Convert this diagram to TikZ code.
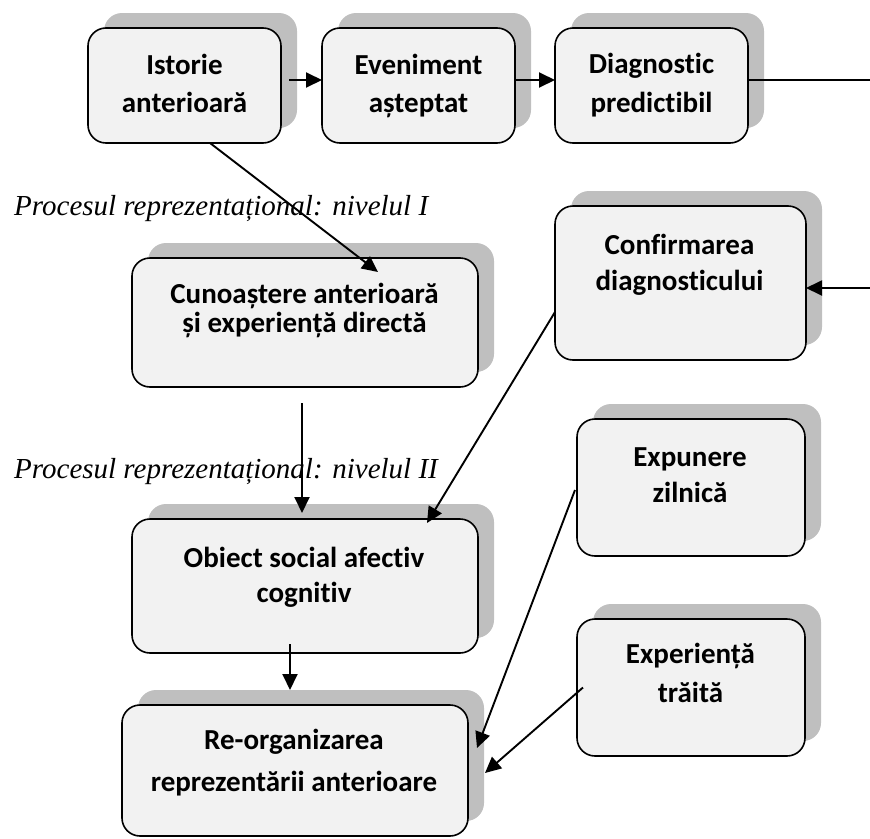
\documentclass[tikz,border=0pt]{standalone}
\usepackage{fontspec}
\usetikzlibrary{arrows.meta,shadows}
\newfontfamily\boxfont{Carlito}[Ligatures=NoCommon]
\newfontfamily\notefont{Liberation Serif}
\definecolor{cardfill}{HTML}{F2F2F2}
\definecolor{cardshadow}{HTML}{BFBFBF}
% two centred lines; the node's baseline is that of the first line
\newcommand\twoline[3]{\vtop{\baselineskip=#3pt\lineskiplimit=-100pt\lineskip=0pt
  \hbox to 0pt{\hss#1\hss}\hbox to 0pt{\hss#2\hss}}}
\tikzset{
  card/.style={rectangle, rounded corners=18pt, draw=black, line width=1.6pt,
    fill=cardfill, inner sep=0pt, outer sep=0pt,
    drop shadow={shadow xshift=16pt, shadow yshift=15pt, fill=cardshadow, opacity=1}},
  cardtext/.style={anchor=base, inner sep=0pt,
    font=\boxfont\bfseries\fontsize{29}{35}\selectfont},
  note/.style={anchor=base west, inner sep=0pt,
    font=\notefont\itshape\fontsize{29}{35}\selectfont},
  conn/.style={line width=1.9pt, draw=black},
  arr/.style={conn, -{Triangle[length=16pt,width=15pt]}}
}
\begin{document}
\begin{tikzpicture}[x=1pt, y=-1pt]
\useasboundingbox (0,0) rectangle (870,838);

% boxes
\node[card, minimum width=193pt, minimum height=115pt] (b1) at (184.5,85.5) {};
\node[card, minimum width=193pt, minimum height=115pt] (b2) at (418.5,85.5) {};
\node[card, minimum width=193pt, minimum height=115pt] (b3) at (651.5,85.5) {};
\node[card, minimum width=346pt, minimum height=129pt] (b4) at (305,322.5) {};
\node[card, minimum width=251pt, minimum height=154pt] (b5) at (680.5,283) {};
\node[card, minimum width=346pt, minimum height=134pt] (b6) at (305,586) {};
\node[card, minimum width=346pt, minimum height=131pt] (b7) at (295,770.5) {};
\node[card, minimum width=228pt, minimum height=137pt] (b8) at (691,487.5) {};
\node[card, minimum width=228pt, minimum height=137pt] (b9) at (691,687.5) {};

% box texts
\node[cardtext] (t1) at (184.5,74) {\twoline{Istorie}{anterioară}{38}};
\node[cardtext] (t2) at (418.5,74) {\twoline{Eveniment}{așteptat}{38}};
\node[cardtext] (t3) at (651.5,73) {\twoline{Diagnostic}{predictibil}{39}};
\node[cardtext] (t4) at (304.5,303) {\twoline{Cunoaștere anterioară}{și experiență directă}{29}};
\node[cardtext] (t5) at (679.5,254) {\twoline{Confirmarea}{diagnosticului}{36}};
\node[cardtext] (t6) at (304,567) {\twoline{Obiect social afectiv}{cognitiv}{35}};
\node[cardtext] (t7) at (294,749) {\twoline{Re-organizarea}{reprezentării anterioare}{42}};
\node[cardtext] (t8) at (690,466) {\twoline{Expunere}{zilnică}{36}};
\node[cardtext] (t9) at (690.5,663) {\twoline{Experiență}{trăită}{39}};

% level captions
\node[note] (n1) at (14,215) {Procesul reprezentațional: nivelul I};
\node[note] (n2) at (14,478) {Procesul reprezentațional: nivelul II};

% free ends on the right margin
\coordinate (rtop) at (870,80);
\coordinate (rmid) at (870,288);

% connectors
\draw[arr] ([xshift=8pt,yshift=5.5pt]b1.east) -- ([yshift=5.5pt]b2.west);
\draw[arr] ([yshift=5.5pt]b2.east) -- ([yshift=5.5pt]b3.west);
\draw[conn] ([yshift=5.5pt]b3.east) -- (rtop);
\draw[arr] (rmid) -- (b5.east |- rmid);
\draw[arr] ([xshift=25.5pt]b1.south) -- ([xshift=73pt,yshift=-14pt]b4.north);
\draw[arr] ([xshift=-3pt,yshift=-16pt]b4.south) -- ([xshift=-3pt,yshift=6pt]b6.north);
\draw[arr] ([yshift=-29pt]b5.west) -- ([xshift=122pt,yshift=-4pt]b6.north);
\draw[arr] ([xshift=-15pt,yshift=9pt]b6.south) -- ([xshift=-5pt,yshift=15pt]b7.north);
\draw[arr] ([xshift=-2pt,yshift=-2.5pt]b8.west) -- ([xshift=9pt,yshift=22.5pt]b7.east);
\draw[arr] ([xshift=6pt]b9.west) -- ([xshift=17pt,yshift=-2.5pt]b7.east);
\end{tikzpicture}
\end{document}
